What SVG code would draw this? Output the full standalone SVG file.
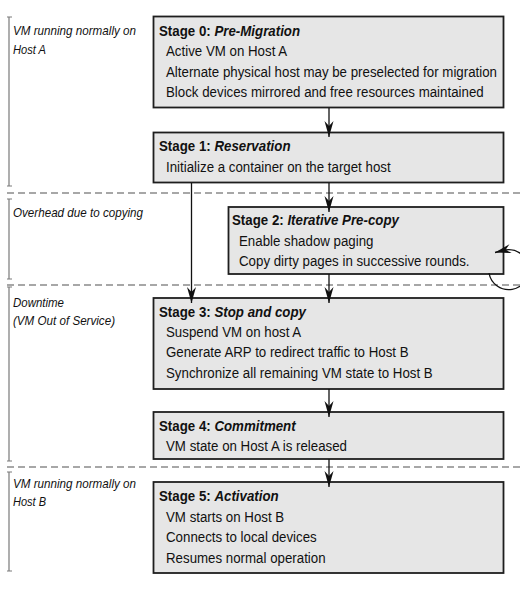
<svg xmlns="http://www.w3.org/2000/svg" width="520" height="591" viewBox="0 0 520 591">
<style>
.box{fill:#e6e6e6;stroke:#1e1e1e;stroke-width:1.8}
.t{font-family:"Liberation Sans",Arial,sans-serif;font-size:14.5px;fill:#111}
.ti{font-weight:bold}
.it{font-style:italic}
.lbl{font-family:"Liberation Sans",Arial,sans-serif;font-size:13px;font-style:italic;fill:#111}
.dash{stroke:#8a8a8a;stroke-width:1.3;stroke-dasharray:7 4;fill:none}
.br{stroke:#7a7a7a;stroke-width:1.2;fill:none}
.con{stroke:#111;stroke-width:1.3;fill:none}
</style>
<defs>
<marker id="ah" markerUnits="userSpaceOnUse" markerWidth="18" markerHeight="12" viewBox="-17 -6 18 12" refX="0" refY="0" orient="auto">
<path d="M0,0 L-16,-4.5 L-11,0 L-16,4.5 Z" fill="#111"/>
</marker>
</defs>
<rect width="520" height="591" fill="#fff"/>
<g id="separators">
<line class="dash" x1="7" y1="193" x2="520" y2="193"/>
<line class="dash" x1="7" y1="285" x2="520" y2="285"/>
<line class="dash" x1="7" y1="467" x2="520" y2="467"/>
</g>
<g id="phase-brackets">
<path class="br" d="M9,17 V186 M7,17 H12 M7,186 H12"/>
<path class="br" d="M9,199 V279 M7,199 H12 M7,279 H12"/>
<path class="br" d="M9,287 V461 M7,287 H12 M7,461 H12"/>
<path class="br" d="M9,472 V571 M7,472 H12 M7,571 H12"/>
</g>
<g id="phase-labels">
<text class="lbl" x="13" y="35" textLength="123" lengthAdjust="spacingAndGlyphs">VM running normally on</text>
<text class="lbl" x="13" y="54" textLength="33" lengthAdjust="spacingAndGlyphs">Host A</text>
<text class="lbl" x="13" y="217" textLength="130" lengthAdjust="spacingAndGlyphs">Overhead due to copying</text>
<text class="lbl" x="13" y="307" textLength="51" lengthAdjust="spacingAndGlyphs">Downtime</text>
<text class="lbl" x="13" y="325" textLength="102" lengthAdjust="spacingAndGlyphs">(VM Out of Service)</text>
<text class="lbl" x="13" y="488" textLength="123" lengthAdjust="spacingAndGlyphs">VM running normally on</text>
<text class="lbl" x="13" y="506" textLength="33" lengthAdjust="spacingAndGlyphs">Host B</text>
</g>
<g id="stage0">
<rect class="box" x="153.5" y="16.5" width="350" height="91"/>
<text class="t" transform="translate(159 36) scale(0.917 1)"><tspan class="ti">Stage 0: </tspan><tspan class="ti it">Pre-Migration</tspan></text>
<text class="t" transform="translate(166 56) scale(0.917 1)">Active VM on Host A</text>
<text class="t" transform="translate(166 76.5) scale(0.917 1)">Alternate physical host may be preselected for migration</text>
<text class="t" transform="translate(166 97) scale(0.917 1)">Block devices mirrored and free resources maintained</text>
</g>
<g id="stage1">
<rect class="box" x="153.5" y="132.5" width="350" height="50"/>
<text class="t" transform="translate(159 151) scale(0.917 1)"><tspan class="ti">Stage 1: </tspan><tspan class="ti it">Reservation</tspan></text>
<text class="t" transform="translate(166 171.5) scale(0.917 1)">Initialize a container on the target host</text>
</g>
<g id="stage2">
<rect class="box" x="228.5" y="207" width="275" height="67"/>
<text class="t" transform="translate(232 225) scale(0.917 1)"><tspan class="ti">Stage 2: </tspan><tspan class="ti it">Iterative Pre-copy</tspan></text>
<text class="t" transform="translate(239 245.5) scale(0.917 1)">Enable shadow paging</text>
<text class="t" transform="translate(239 266) scale(0.917 1)">Copy dirty pages in successive rounds.</text>
</g>
<g id="stage3">
<rect class="box" x="153.5" y="298" width="350" height="91"/>
<text class="t" transform="translate(159 317) scale(0.917 1)"><tspan class="ti">Stage 3: </tspan><tspan class="ti it">Stop and copy</tspan></text>
<text class="t" transform="translate(166 337) scale(0.917 1)">Suspend VM on host A</text>
<text class="t" transform="translate(166 357) scale(0.917 1)">Generate ARP to redirect traffic to Host B</text>
<text class="t" transform="translate(166 377.5) scale(0.917 1)">Synchronize all remaining VM state to Host B</text>
</g>
<g id="stage4">
<rect class="box" x="153.5" y="412" width="350" height="47"/>
<text class="t" transform="translate(159 431) scale(0.917 1)"><tspan class="ti">Stage 4: </tspan><tspan class="ti it">Commitment</tspan></text>
<text class="t" transform="translate(166 451) scale(0.917 1)">VM state on Host A is released</text>
</g>
<g id="stage5">
<rect class="box" x="153.5" y="482" width="350" height="91"/>
<text class="t" transform="translate(159 501) scale(0.917 1)"><tspan class="ti">Stage 5: </tspan><tspan class="ti it">Activation</tspan></text>
<text class="t" transform="translate(166 521.5) scale(0.917 1)">VM starts on Host B</text>
<text class="t" transform="translate(166 542) scale(0.917 1)">Connects to local devices</text>
<text class="t" transform="translate(166 562.5) scale(0.917 1)">Resumes normal operation</text>
</g>
<g id="connectors">
<line class="con" x1="329" y1="108" x2="329" y2="137" marker-end="url(#ah)"/>
<line class="con" x1="329" y1="183" x2="329" y2="212" marker-end="url(#ah)"/>
<line class="con" x1="191.5" y1="183" x2="191.5" y2="303" marker-end="url(#ah)"/>
<line class="con" x1="329" y1="274" x2="329" y2="303" marker-end="url(#ah)"/>
<line class="con" x1="329" y1="389" x2="329" y2="417" marker-end="url(#ah)"/>
<line class="con" x1="329" y1="459" x2="329" y2="487" marker-end="url(#ah)"/>
<path class="con" d="M489,273 A20,20 0 1 0 505,250 L495,252.5" marker-end="url(#ah)"/>
</g>
</svg>
